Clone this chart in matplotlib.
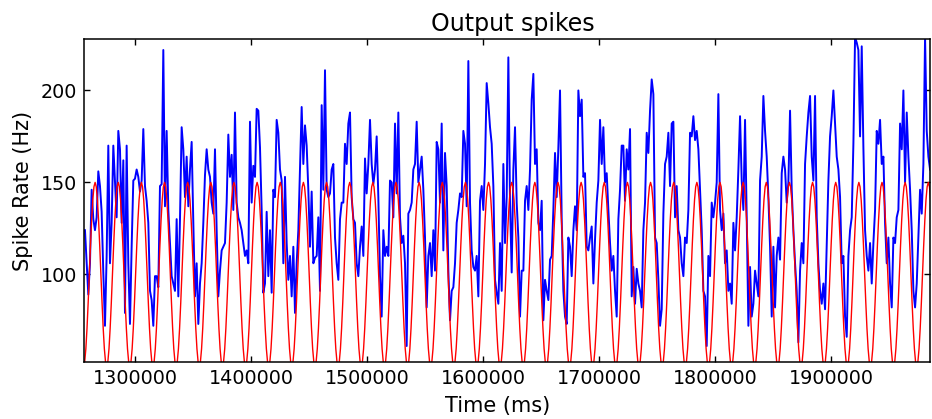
import numpy as np
import matplotlib
matplotlib.use("Agg")
import matplotlib.pyplot as plt

# blue: measured output rate, sampled every ~1437 ms starting at 1256862 ms
t_start = 1256862
t_step = 1436.8
rate_out = [
    # 1256862 .. ~1440000
    124, 106, 89, 106, 146, 130, 124, 131, 156, 148, 134, 101, 72, 110, 170, 106,
    128, 170, 151, 131, 178, 168, 128, 162, 79, 170, 106, 73, 115, 151, 152, 157,
    153, 145, 151, 179, 148, 140, 128, 91, 86, 72, 99, 99, 93, 148, 149, 222,
    137, 178, 135, 117, 99, 95, 91, 130, 88, 130, 180, 168, 142, 164, 137, 157,
    172, 128, 88, 106, 73, 95, 106, 128, 154, 168, 157, 153, 139, 133, 168, 124,
    88, 102, 113, 115, 117, 139, 176, 153, 165, 135, 188, 139, 131, 128, 124, 117,
    110, 113, 106, 183, 139, 159, 153, 190, 189, 169, 135, 90, 95, 134, 99, 124,
    90, 146, 142, 184, 177, 157, 151, 106, 153, 117, 97, 110, 88, 115, 79, 106,
    124,
    # ~1442000 .. ~1620000
    157, 191, 160, 181, 170, 146, 115, 145, 106, 109, 110, 131, 91, 192, 146, 211,
    146, 142, 144, 157, 160, 120, 106, 97, 130, 139, 139, 171, 160, 182, 188, 142,
    130, 128, 106, 99, 115, 126, 110, 163, 144, 160, 184, 160, 149, 157, 175, 142,
    99, 77, 124, 110, 115, 110, 151, 150, 131, 182, 144, 188, 131, 117, 121, 106,
    61, 133, 135, 139, 157, 160, 183, 150, 157, 164, 146, 120, 82, 110, 117, 99,
    124, 102, 172, 168, 139, 182, 113, 166, 148, 102, 75, 91, 93, 106, 128, 135,
    144, 142, 178, 171, 137, 216, 139, 113, 104, 102, 110, 88, 140, 148, 135, 160,
    204, 193, 180, 171, 148, 97, 90, 84, 117, 91, 160, 117, 142, 218,
    # ~1623000 .. ~1801000
    139, 101, 157, 180, 139, 120, 77, 102, 102, 140, 148, 135, 157, 195, 209, 160,
    168, 128, 124, 140, 75, 97, 91, 86, 108, 110, 135, 166, 142, 169, 200, 130,
    91, 77, 73, 120, 115, 99, 124, 137, 124, 200, 186, 195, 153, 155, 115, 113,
    120, 126, 95, 119, 139, 151, 184, 160, 180, 150, 155, 135, 117, 102, 110, 91,
    77, 130, 146, 170, 170, 140, 168, 157, 179, 88, 104, 84, 103, 95, 91, 82,
    124, 139, 177, 166, 189, 206, 198, 120, 117, 97, 72, 81, 133, 160, 164, 177,
    148, 182, 183, 131, 148, 124, 120, 106, 99, 120, 117, 135, 177, 175, 186, 173,
    178, 168, 146, 124, 91, 88, 61, 110, 99, 139, 131, 139, 150, 198,
    # ~1804000 .. 1985000
    135, 124, 133, 106, 113, 91, 95, 84, 128, 113, 131, 157, 186, 151, 135, 184,
    131, 72, 104, 77, 84, 102, 95, 88, 151, 164, 197, 178, 164, 142, 115, 77,
    115, 82, 110, 120, 108, 155, 164, 157, 139, 150, 189, 146, 124, 106, 91, 63,
    102, 117, 106, 160, 175, 188, 197, 164, 151, 197, 131, 106, 91, 84, 95, 81,
    117, 151, 175, 186, 200, 182, 164, 157, 142, 106, 110, 77, 66, 110, 124, 131,
    171, 229, 226, 222, 175, 224, 169, 124, 110, 102, 117, 95, 117, 135, 178, 171,
    184, 160, 164, 128, 106, 120, 95, 82, 120, 117, 131, 135, 182, 168, 200, 150,
    188, 164, 146, 124, 91, 82, 95, 120, 146, 133, 160, 229, 178, 164, 157,
]

# red: input rate, one cycle (starts at a trough), period ~19950 ms
red_t0 = 1255620
red_period = 19950
red_cycle = [50, 52.4, 59.5, 70.6, 84.5, 100, 115.5, 129.4, 140.5, 147.6,
             150, 147.6, 140.5, 129.4, 115.5, 100, 84.5, 70.6, 59.5, 52.4]
n_cycles = 38

t_out = t_start + t_step * np.arange(len(rate_out))
rate_in = np.append(np.tile(red_cycle, n_cycles), red_cycle[0])
t_in = red_t0 + red_period / len(red_cycle) * np.arange(len(rate_in))

plt.rcParams['font.family'] = ['DejaVu Sans']

fig = plt.figure(figsize=(9.32, 4.19), dpi=100)
ax = fig.add_axes([0.0901, 0.136, 0.9078, 0.771])

ax.plot(t_out, rate_out, color='#0000ff', lw=1.4)
ax.plot(t_in, rate_in, color='#ff0000', lw=1.0)

ax.set_xlim(1256000, 1985300)
ax.set_ylim(52.3, 228)
ax.set_xticks([1300000, 1400000, 1500000, 1600000, 1700000, 1800000, 1900000])
ax.set_yticks([100, 150, 200])
ax.ticklabel_format(useOffset=False, style='plain')
ax.tick_params(direction='in', length=4.5, width=1, top=True, right=True,
               labelsize=13.8, pad=5)
for s in ax.spines.values():
    s.set_linewidth(1.1)
    s.set_color('black')

ax.set_title("Output spikes", fontsize=17, pad=5.5)
ax.title.set_x(0.507)
ax.set_xlabel("Time (ms)", fontsize=15)
ax.set_ylabel("Spike Rate (Hz)", fontsize=15)
ax.xaxis.set_label_coords(0.489, -0.105)
ax.yaxis.set_label_coords(-0.060, 0.529)

fig.savefig("out.png", dpi=100, facecolor='white')
